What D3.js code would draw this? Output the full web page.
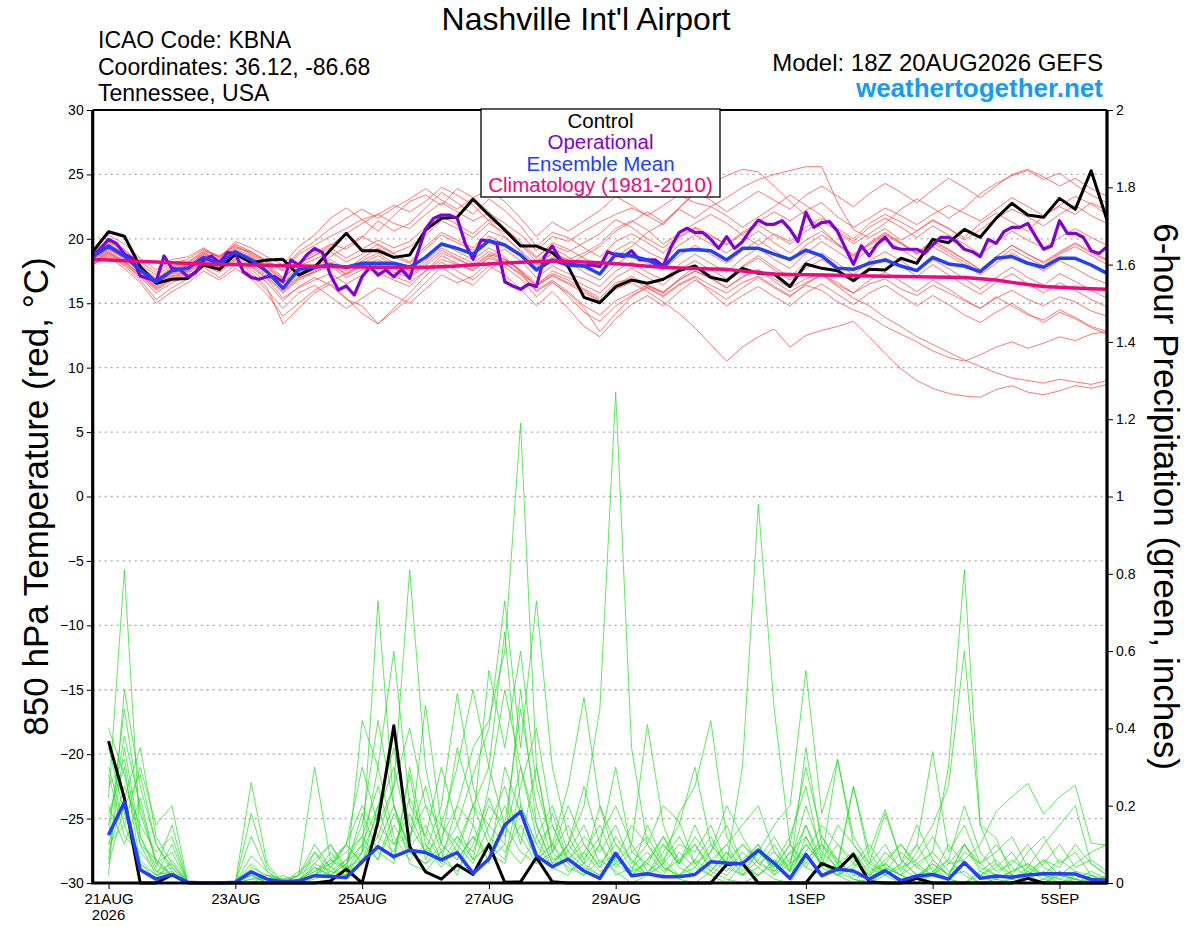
<!DOCTYPE html>
<html>
<head>
<meta charset="utf-8">
<script src="https://cdn.jsdelivr.net/npm/d3@7"></script>
<style>
  body { margin: 0; background: #fff; }
  svg { display: block; font-family: "Liberation Sans", Arial, sans-serif; }
</style>
</head>
<body>
<div id="chart"></div>
<script>
// run start 18Z 20AUG2026, temps every 6h (0..384h), precip every 6h (6..384h), operational every 3h
const runStart = Date.UTC(2026, 7, 20, 18);
const runEnd = Date.UTC(2026, 8, 5, 18);

const tickDates = ["2026-08-21", "2026-08-23", "2026-08-25", "2026-08-27", "2026-08-29", "2026-09-01", "2026-09-03", "2026-09-05"];
const tickLabels = ["21AUG", "23AUG", "25AUG", "27AUG", "29AUG", "1SEP", "3SEP", "5SEP"];
const tempTicks = [-30, -25, -20, -15, -10, -5, 0, 5, 10, 15, 20, 25, 30];
const precipTicks = [0, 0.2, 0.4, 0.6, 0.8, 1, 1.2, 1.4, 1.6, 1.8, 2];

// 850 hPa temperature, control run (6h)
const controlTemp = [19.0, 20.55, 20.2, 17.84, 16.55, 16.86, 16.93, 17.97, 17.63, 18.82,
  18.15, 18.36, 18.41, 17.19, 17.79, 19.13, 20.43, 19.08, 19.08, 18.56,
  18.74, 20.69, 21.6, 21.67, 23.07, 21.85, 20.69, 19.44, 19.44, 18.93,
  17.84, 15.46, 15.04, 16.29, 16.8, 16.55, 16.86, 17.53, 17.89, 17.01,
  16.75, 17.71, 17.32, 17.27, 16.29, 18.05, 17.71, 17.53, 16.75, 17.63,
  17.58, 18.49, 18.1, 19.96, 19.7, 20.74, 20.12, 21.59, 22.76, 21.85,
  21.67, 23.14, 22.29, 25.29, 21.46];

// operational run (3h)
const operationalTemp = [18.62, 19.26, 19.96, 19.65, 18.82, 18.49, 17.11, 16.93, 16.67, 18.67,
  17.71, 17.63, 17.06, 17.37, 18.36, 18.67, 18.15, 18.93, 18.87, 17.45,
  17.01, 16.86, 17.06, 17.06, 16.67, 18.36, 17.97, 18.74, 19.26, 18.93,
  17.19, 16.03, 16.34, 15.64, 17.06, 17.84, 17.19, 17.58, 17.06, 17.63,
  16.93, 18.87, 20.74, 21.59, 21.85, 21.85, 21.59, 19.65, 18.41, 19.91,
  19.83, 19.6, 16.67, 16.34, 16.08, 16.49, 16.29, 18.62, 19.44, 18.41,
  18.1, 17.97, 17.89, 17.97, 17.84, 19.0, 18.74, 18.62, 19.08, 18.36,
  18.36, 18.36, 17.89, 19.39, 20.48, 20.82, 20.48, 20.48, 19.96, 19.26,
  20.17, 19.26, 19.78, 20.69, 21.46, 21.13, 21.13, 21.41, 20.74, 19.78,
  22.06, 20.89, 21.26, 21.33, 20.56, 19.26, 18.02, 19.47, 18.67, 19.6,
  20.12, 19.34, 19.19, 19.19, 19.19, 18.87, 19.52, 20.12, 20.12, 19.78,
  19.19, 19.0, 18.62, 19.96, 19.65, 20.56, 20.89, 20.89, 21.2, 20.17,
  19.19, 19.44, 21.41, 20.43, 20.43, 20.12, 19.08, 18.87, 19.39];

const meanTemp = [18.62, 19.44, 18.67, 17.58, 16.67, 17.53, 17.71, 18.56, 18.05, 19.0,
  18.36, 17.45, 16.16, 17.63, 17.79, 17.97, 17.79, 18.1, 18.1, 18.1,
  17.79, 18.56, 19.6, 19.26, 18.82, 19.86, 19.52, 18.74, 17.58, 18.36,
  17.97, 17.89, 17.27, 18.82, 18.67, 18.36, 17.79, 19.08, 19.18, 19.08,
  18.36, 19.26, 19.26, 18.82, 18.41, 19.13, 18.67, 17.71, 17.63, 18.1,
  18.36, 17.89, 17.53, 18.56, 18.05, 17.89, 17.45, 18.49, 18.62, 18.1,
  17.79, 18.49, 18.49, 17.97, 17.32];

const climTemp = [18.4, 18.35, 18.3, 18.25, 18.2, 18.15, 18.1, 18.05, 18.0, 18.0,
  17.97, 17.95, 17.92, 17.9, 17.88, 17.86, 17.84, 17.82, 17.8, 17.8,
  17.79, 17.79, 17.84, 17.9, 17.98, 18.05, 18.12, 18.18, 18.24, 18.28,
  18.25, 18.2, 18.15, 18.07, 17.98, 17.88, 17.79, 17.74, 17.7, 17.66,
  17.63, 17.5, 17.38, 17.27, 17.24, 17.22, 17.2, 17.17, 17.15, 17.12,
  17.1, 17.08, 17.06, 17.04, 17.02, 17.0, 16.9, 16.8, 16.62, 16.45,
  16.3, 16.24, 16.18, 16.12, 16.08];

// ensemble members, 850 hPa temperature (6h)
const memberTemps = [
  [18.9,19.8,19.2,17.9,16.9,17.8,18.2,19.0,18.6,19.6, 19.0,18.2,17.5,18.8,19.5,20.2,20.8,21.5,21.9,21.2,
   20.8,21.9,22.8,22.1,21.4,22.0,21.2,20.3,19.1,20.2, 19.8,20.6,21.3,21.9,22.4,21.8,22.6,23.4,22.8,22.5,
   23.2,24.0,24.6,25.0,25.3,25.6,25.6,22.8,20.7,20.1, 20.8,19.9,20.6,21.4,20.8,20.1,21.2,22.0,21.3,20.6,
   21.8,22.5,21.9,22.8,22.2],
  [18.2,19.1,18.3,17.2,16.1,16.9,17.4,18.1,17.6,18.4, 17.8,16.9,15.4,16.2,16.8,17.3,16.5,17.2,17.8,17.1,
   16.6,17.5,18.4,18.0,17.6,18.5,18.1,17.2,16.0,16.8, 15.9,14.8,14.1,15.2,15.8,16.4,15.9,16.8,17.5,17.0,
   16.2,17.1,17.6,16.9,16.2,16.9,17.3,16.4,15.8,16.5, 16.9,16.1,15.6,16.4,15.8,15.2,14.6,15.4,16.0,15.3,
   14.8,15.5,15.1,14.4,14.0],
  [18.8,19.6,18.9,18.0,17.2,17.9,18.1,19.1,18.7,19.4, 18.9,18.1,17.0,18.2,18.9,19.6,19.2,20.1,21.4,20.6,
   21.2,22.4,23.6,22.8,21.9,23.1,22.2,21.0,19.4,20.5, 20.1,19.3,18.6,19.8,20.4,19.7,18.9,20.1,20.8,20.2,
   19.6,20.5,21.3,22.1,21.4,22.2,22.8,21.7,20.9,21.6, 22.4,21.8,21.1,21.9,22.6,22.0,21.4,22.3,23.2,22.5,
   21.8,22.6,23.3,22.7,21.9],
  [18.4,19.2,18.5,17.4,16.4,17.2,17.6,18.4,17.9,18.8, 18.1,17.1,15.9,17.0,17.4,17.9,17.0,17.6,18.0,17.4,
   17.0,17.9,18.9,18.4,17.9,18.8,18.4,17.6,16.5,17.3, 16.8,16.1,15.4,16.6,16.9,16.2,15.6,16.5,17.1,16.4,
   15.8,16.6,17.1,16.3,15.6,16.4,16.0,15.1,14.5,14.0, 13.2,12.6,12.0,11.3,10.8,10.5,11.0,11.6,12.0,11.5,
   11.9,12.4,12.1,12.6,12.8],
  [18.2,18.9,18.2,17.2,16.3,17.1,17.5,18.3,17.7,18.6, 17.9,17.0,15.8,16.8,17.4,18.0,17.3,18.1,18.7,17.9,
   17.3,18.3,19.3,18.7,18.1,19.0,18.4,17.5,16.3,17.2, 16.6,16.0,15.2,16.4,17.1,16.4,15.8,16.8,17.5,16.9,
   16.2,17.0,17.6,16.7,15.9,16.6,17.2,16.3,15.4,14.8, 13.9,13.2,12.4,11.8,11.2,10.6,10.1,9.6,9.2,9.0,
   8.8,9.1,8.9,8.7,9.0],
  [18.5,19.3,18.6,17.5,16.5,17.3,17.7,18.5,18.0,18.9, 18.3,17.4,16.0,16.9,17.5,18.1,17.2,17.9,18.4,17.7,
   17.1,18.1,19.1,18.5,17.8,18.7,18.1,17.3,16.4,17.1, 16.5,15.8,15.2,16.1,16.6,15.9,15.1,14.2,13.1,11.8,
   10.5,11.6,12.4,13.0,11.6,12.5,12.9,13.2,13.6,12.4, 11.1,9.9,9.0,8.4,8.0,7.8,7.7,8.3,8.6,8.1,
   7.9,8.2,8.6,8.4,8.7],
  [19.2,20.3,19.6,18.5,17.6,18.4,18.6,19.3,18.5,19.8, 19.3,18.6,18.0,19.4,20.3,21.6,22.4,21.5,20.6,21.8,
   22.9,23.4,22.6,23.9,23.2,22.1,20.8,19.6,18.2,19.3, 18.6,17.8,17.3,18.6,19.4,20.5,21.2,22.3,21.6,22.5,
   21.8,20.9,21.7,22.5,23.4,22.6,21.8,20.5,19.6,20.4, 21.2,22.3,23.1,22.4,21.6,22.4,23.5,24.3,24.9,25.3,
   24.6,25.1,24.2,23.4,22.8],
  [18.0,18.7,17.9,16.8,15.3,16.2,16.9,17.8,17.0,18.0, 17.2,16.0,14.6,15.8,16.4,15.5,14.6,15.4,16.2,15.6,
   15.0,16.1,17.2,16.6,17.1,18.2,17.8,16.9,15.5,16.6, 15.8,14.6,12.8,14.2,15.5,16.3,15.8,16.9,17.8,17.2,
   16.6,17.8,18.5,17.6,16.8,17.7,18.4,17.6,16.9,17.8, 18.5,17.9,17.1,18.0,17.2,16.4,15.7,16.6,17.3,16.5,
   15.8,16.6,16.0,15.3,14.7],
  [18.6,19.3,18.4,17.5,16.6,17.5,17.8,18.9,18.2,19.1, 18.5,17.8,16.6,17.4,18.0,18.6,19.4,20.2,19.5,18.8,
   18.2,19.4,20.5,19.9,19.3,20.6,20.1,19.1,18.0,18.9, 18.4,18.9,19.6,20.8,21.4,20.7,19.6,20.4,21.2,21.9,
   21.2,20.3,19.5,20.4,19.8,20.9,21.6,20.8,20.0,21.2, 21.9,21.3,20.6,21.5,20.8,19.9,20.7,21.6,22.3,21.7,
   21.0,21.9,22.6,21.8,21.2],
  [18.3,18.9,18.1,17.0,15.8,16.6,17.1,17.9,17.4,18.3, 17.4,16.2,13.4,14.6,15.8,16.5,15.4,14.2,13.4,14.6,
   15.8,17.1,18.2,17.5,16.8,17.9,17.2,16.1,14.8,15.9, 14.6,13.2,12.4,13.8,14.9,15.6,14.8,15.9,16.8,16.1,
   15.3,16.2,17.0,16.2,15.5,16.5,17.2,16.6,15.8,16.8, 17.4,16.7,15.9,16.8,16.1,15.3,14.6,15.5,14.8,14.1,
   13.7,14.5,13.9,13.2,12.8],
  [19.0,19.9,19.0,17.8,16.9,17.6,17.9,18.8,18.3,19.2, 18.7,17.6,16.5,17.9,18.4,19.0,18.2,18.8,19.6,18.9,
   19.4,20.3,21.4,20.8,20.1,21.2,20.5,19.6,18.5,19.7, 19.2,18.5,17.9,19.1,19.8,19.0,18.4,19.5,20.3,19.6,
   18.9,19.8,20.6,19.7,18.9,19.9,20.6,19.6,18.8,19.6, 20.4,19.7,18.8,19.7,18.9,18.2,17.4,18.3,19.2,18.5,
   17.9,18.8,19.4,18.7,18.0],
  [18.1,18.8,18.0,17.1,16.0,16.8,17.3,18.2,17.5,18.5, 17.6,16.6,15.2,16.3,17.0,16.4,15.3,14.8,13.4,14.4,
   15.4,16.6,17.8,17.0,16.4,17.6,18.4,17.5,16.3,17.5, 17.0,16.4,15.8,17.0,17.7,17.0,16.4,17.6,18.3,17.6,
   16.9,17.9,18.7,17.8,17.0,18.2,18.9,18.1,17.2,18.3, 19.0,18.3,17.5,18.4,17.7,16.9,16.1,17.0,17.8,17.0,
   16.4,17.3,16.7,16.0,15.4],
  [18.7,19.5,18.8,17.7,16.8,17.7,18.0,18.9,18.4,19.3, 19.0,18.3,17.6,19.0,19.8,20.8,21.6,22.3,21.6,22.4,
   23.1,23.9,23.0,22.3,23.2,23.8,22.9,21.6,20.2,21.3, 20.6,21.4,22.2,23.3,22.6,21.8,21.1,22.4,23.6,23.0,
   22.1,22.9,23.7,23.0,22.3,23.4,24.1,23.3,22.5,23.5, 24.3,23.6,22.8,23.8,24.7,24.0,23.2,24.1,25.0,25.4,
   24.8,24.1,24.7,23.9,23.3],
  [18.5,19.0,18.2,17.3,16.2,17.0,17.5,18.3,17.8,18.7, 18.2,17.3,16.1,17.1,17.6,18.2,17.5,18.3,18.9,18.1,
   17.5,18.6,19.7,19.0,18.4,19.3,18.6,17.4,15.9,16.7, 15.6,14.3,13.6,14.8,15.6,16.2,15.5,16.4,17.0,15.8,
   14.8,15.6,16.3,15.5,14.8,15.8,16.5,15.7,14.9,15.8, 16.4,15.6,14.8,15.6,14.9,14.1,13.5,14.3,15.0,14.2,
   13.5,14.3,13.8,13.1,12.6],
  [18.9,19.7,19.1,18.2,17.4,18.1,18.4,19.2,18.6,19.5, 18.8,17.9,16.9,18.1,18.7,19.3,18.5,19.2,19.9,19.3,
   19.8,20.9,21.8,21.1,20.4,21.5,20.8,19.8,18.6,19.5, 19.0,19.7,20.4,21.5,20.9,20.0,19.3,20.2,20.9,20.3,
   19.5,20.4,21.1,20.3,19.6,20.6,21.4,20.6,19.8,20.9, 21.6,20.9,20.1,21.0,20.3,19.6,18.8,19.7,20.6,19.9,
   19.3,20.1,20.8,20.1,19.5],
  [18.0,18.6,17.7,16.6,15.0,15.9,16.6,17.5,16.8,17.7, 16.9,15.7,14.0,15.0,16.0,16.7,17.3,18.0,17.4,16.8,
   16.3,17.5,18.7,18.1,17.5,18.6,19.2,18.3,17.0,17.9, 17.3,16.9,16.3,17.5,18.2,17.4,16.8,18.0,18.8,18.1,
   17.4,18.5,19.3,18.4,17.7,18.9,19.8,19.0,18.2,19.2, 19.9,19.2,18.4,19.4,18.7,18.0,17.2,18.1,18.9,18.2,
   17.5,18.3,17.7,17.0,16.5],
  [18.6,19.4,18.7,17.6,16.7,17.6,17.9,18.7,18.1,18.9, 18.4,17.5,16.3,17.3,17.9,18.4,17.6,18.5,19.3,18.6,
   18.1,19.2,20.3,19.7,19.1,20.2,19.6,18.8,17.7,18.6, 18.0,18.7,19.4,20.6,21.3,22.1,21.3,22.4,23.5,24.3,
   24.9,25.4,25.2,24.1,22.9,21.8,20.8,19.6,18.7,19.5, 20.3,19.6,18.9,19.8,19.1,18.4,17.6,18.6,19.5,18.8,
   18.2,19.0,19.7,19.0,18.4],
  [18.4,19.2,18.6,17.6,16.5,17.4,17.8,18.6,18.1,19.0, 18.6,17.8,16.9,18.1,18.7,19.5,20.4,21.2,21.9,22.6,
   22.1,22.9,24.0,23.4,22.6,21.4,20.2,19.0,17.8,18.9, 18.3,17.4,16.8,18.0,18.8,18.1,17.6,18.7,19.5,18.8,
   18.1,19.1,19.9,19.1,18.3,19.5,20.3,19.5,18.6,19.7, 20.5,19.7,18.9,19.9,19.2,18.4,17.6,18.6,19.5,18.8,
   18.1,18.9,19.6,18.9,18.3]
];

// 6-hour precipitation, inches (periods ending 00Z 21AUG .. 18Z 5SEP)
const controlPrecip = [0.367, 0.219, 0, 0, 0.021, 0, 0, 0, 0, 0,
  0, 0, 0, 0, 0.005, 0.036, 0, 0.159, 0.407, 0.094,
  0.029, 0.01, 0.047, 0.022, 0.1, 0.002, 0.003, 0.066, 0.003, 0,
  0, 0, 0, 0, 0, 0, 0, 0, 0, 0.048,
  0.051, 0, 0, 0, 0, 0.051, 0.034, 0.074, 0.003, 0,
  0, 0.012, 0, 0, 0, 0, 0, 0, 0.012, 0,
  0, 0, 0, 0];

const meanPrecip = [0.124, 0.209, 0.034, 0.01, 0.022, 0.002, 0, 0, 0.002, 0.029,
  0.01, 0.003, 0.005, 0.019, 0.017, 0.014, 0.055, 0.094, 0.068, 0.085,
  0.079, 0.06, 0.079, 0.025, 0.062, 0.15, 0.185, 0.071, 0.042, 0.062,
  0.031, 0.012, 0.077, 0.019, 0.024, 0.016, 0.016, 0.022, 0.055, 0.052,
  0.05, 0.085, 0.051, 0.012, 0.074, 0.019, 0.036, 0.031, 0.01, 0.032,
  0.006, 0.018, 0.022, 0.01, 0.053, 0.012, 0.018, 0.015, 0.021, 0.024,
  0.024, 0.023, 0.009, 0.007];

const memberPrecips = [
  [0.22,0.81,0.12,0.03,0.05,0,0,0,0,0.02, 0,0,0.01,0.04,0.02,0.06,0.12,0.25,0.1,0.18, 0.08,0.12,0.2,0.35,0.42,0.6,1.19,0.3,0.08,0.04, 0.02,0.06,0.03,0,0.02,0.05,0.01,0,0.03,0.01, 0,0.02,0.06,0.01,0.12,0.05,0.02,0,0.01,0.04, 0.02,0,0.03,0.01,0,0.02,0.05,0.01,0,0, 0.02,0.01,0,0],
  [0.3,0.15,0.05,0.02,0.1,0,0,0,0,0.26, 0.05,0,0,0.02,0.08,0.03,0.05,0.1,0.2,0.09, 0.15,0.06,0.03,0.1,0.22,0.12,0.3,0.15,0.05,0.1, 0.2,0.45,1.27,0.35,0.1,0.04,0.02,0.06,0.03,0.08, 0.02,0.04,0.01,0,0.06,0.1,0.03,0.01,0,0.02, 0,0.01,0.05,0.02,0.03,0,0,0.01,0.04,0.02, 0,0,0.01,0],
  [0.15,0.38,0.2,0.05,0.02,0,0,0,0,0.07, 0.03,0,0.02,0.3,0.06,0.04,0.18,0.08,0.05,0.3, 0.1,0.05,0.12,0.08,0.2,0.15,0.08,0.05,0.18,0.06, 0.1,0.04,0.12,0.06,0.02,0.08,0.15,0.3,0.1,0.05, 0.3,0.98,0.45,0.1,0.04,0.02,0.05,0.01,0,0.03, 0.01,0,0.02,0.01,0.05,0.02,0,0,0.01,0, 0.03,0.01,0,0],
  [0.1,0.25,0.15,0.08,0.12,0,0,0,0,0.03, 0.01,0,0,0.05,0.1,0.03,0.08,0.73,0.2,0.05, 0.03,0.08,0.02,0.15,0.05,0.3,0.18,0.06,0.1,0.03, 0.05,0.02,0.08,0.03,0.15,0.06,0.02,0.04,0.02,0, 0.05,0.1,0.03,0.06,0.15,0.04,0.02,0.08,0.03,0.05, 0.1,0.04,0.08,0.3,0.81,0.15,0.05,0.02,0.01,0.03, 0.01,0,0.02,0],
  [0.25,0.32,0.1,0.02,0.04,0,0,0,0,0, 0.02,0.01,0,0.08,0.04,0.1,0.3,0.15,0.25,0.81, 0.3,0.1,0.06,0.12,0.08,0.05,0.2,0.1,0.04,0.02, 0.08,0.03,0.05,0.02,0.06,0.12,0.04,0.02,0.05,0.1, 0.03,0.08,0.15,0.2,0.55,0.18,0.32,0.1,0.05,0.18, 0.06,0.02,0.04,0.01,0,0.03,0.01,0,0.02,0, 0,0.01,0,0.02],
  [0.05,0.2,0.28,0.1,0.03,0,0,0,0,0.02, 0,0,0.01,0.03,0.05,0.08,0.12,0.06,0.18,0.1, 0.46,0.15,0.08,0.2,0.1,0.06,0.25,0.4,0.15,0.05, 0.02,0.1,0.04,0.08,0.12,0.05,0.18,0.25,0.42,0.12, 0.05,0.02,0.06,0.03,0.1,0.05,0.02,0.04,0.08,0.02, 0.05,0.1,0.03,0.06,0.02,0,0.01,0.03,0.05,0.02, 0.06,0.03,0,0],
  [0.18,0.3,0.05,0.01,0.06,0,0,0,0,0.18, 0.04,0,0,0.02,0.04,0.1,0.05,0.2,0.35,0.15, 0.08,0.2,0.49,0.25,0.12,0.08,0.15,0.06,0.1,0.25, 0.48,0.2,0.06,0.03,0.05,0.02,0.08,0.04,0.1,0.05, 0.02,0.08,0.04,0.1,0.05,0.12,0.06,0.02,0.01,0.05, 0.02,0,0.06,0.02,0.1,0.05,0.02,0.06,0.03,0.01, 0,0.02,0.01,0],
  [0.12,0.45,0.18,0.06,0.02,0,0,0,0,0.05, 0.01,0,0.03,0.06,0.1,0.04,0.06,0.12,0.08,0.22, 0.12,0.3,0.15,0.28,0.4,0.73,0.35,0.73,0.3,0.12, 0.05,0.1,0.02,0.04,0.08,0.03,0.06,0.1,0.04,0.02, 0.06,0.1,0.02,0.05,0.2,0.08,0.04,0.25,0.06,0.02, 0.04,0.01,0.02,0.05,0.1,0.04,0.02,0.01,0.03,0.06, 0.02,0.01,0.03,0.01],
  [0.08,0.22,0.35,0.12,0.05,0,0,0,0,0, 0,0.02,0,0.04,0.02,0.05,0.1,0.06,0.15,0.08, 0.05,0.1,0.06,0.12,0.06,0.1,0.05,0.12,0.2,0.08, 0.04,0.02,0.06,0.15,0.1,0.2,0.16,0.05,0.02,0.06, 0.1,0.05,0.03,0.08,0.12,0.04,0.1,0.06,0.02,0.08, 0.04,0.06,0.12,0.05,0.06,0.1,0.185,0.223,0.258,0.178, 0.223,0.253,0.103,0.098],
  [0.28,0.12,0.08,0.03,0.02,0,0,0,0,0.01, 0.02,0,0,0.01,0.03,0.02,0.42,0.3,0.12,0.06, 0.1,0.04,0.1,0.05,0.15,0.25,0.1,0.3,0.08,0.15, 0.06,0.12,0.2,0.1,0.41,0.15,0.05,0.1,0.03,0.08, 0.04,0.02,0.05,0.12,0.25,0.06,0.02,0.05,0.1,0.04, 0.02,0.08,0.15,0.25,0.6,0.15,0.116,0.02,0,0.01, 0.03,0,0,0.02],
  [0.2,0.1,0.22,0.05,0.08,0,0,0,0,0.03, 0,0.01,0.02,0.05,0.03,0.06,0.08,0.18,0.3,0.12, 0.2,0.08,0.15,0.06,0.1,0.2,0.12,0.05,0.08,0.2, 0.1,0.04,0.08,0.02,0.06,0.1,0.05,0.12,0.06,0.03, 0.08,0.04,0.1,0.03,0.15,0.06,0.32,0.12,0.05,0.1, 0.03,0.1,0.34,0.08,0.15,0.05,0.08,0.12,0.04,0.1, 0.15,0.2,0.05,0.02],
  [0.35,0.18,0.06,0.02,0.03,0,0,0,0,0.01, 0.01,0,0,0.03,0.06,0.03,0.1,0.2,0.06,0.28, 0.06,0.15,0.1,0.2,0.3,0.15,0.45,0.2,0.06,0.08, 0.15,0.05,0.1,0.04,0.02,0.05,0.1,0.08,0.15,0.05, 0.1,0.06,0.02,0.08,0.04,0.1,0.05,0.25,0.08,0.19, 0.06,0.02,0.05,0.02,0.1,0.03,0.06,0.02,0.08,0.12, 0.05,0.08,0.02,0],
  [0.06,0.35,0.12,0.04,0.15,0,0,0,0,0.12, 0.03,0,0.02,0.1,0.04,0.02,0.08,0.3,0.6,0.2, 0.12,0.06,0.2,0.15,0.55,0.35,0.6,0.25,0.1,0.05, 0.08,0.15,0.05,0.1,0.03,0.06,0.12,0.05,0.08,0.2, 0.12,0.05,0.08,0.03,0.35,0.1,0.06,0.02,0.05,0.03, 0.08,0.04,0.02,0.1,0.05,0.02,0.04,0.08,0.02,0.05, 0.1,0.04,0.06,0.03],
  [0.4,0.28,0.1,0.06,0.02,0,0,0,0,0.04, 0.02,0.01,0,0.02,0.06,0.1,0.2,0.12,0.25,0.4, 0.2,0.15,0.3,0.5,0.3,0.65,0.2,0.1,0.15,0.06, 0.12,0.08,0.15,0.05,0.1,0.04,0.02,0.06,0.12,0.04, 0.02,0.06,0.12,0.05,0.08,0.15,0.1,0.05,0.02,0.06, 0.1,0.05,0.02,0.06,0.2,0.08,0.03,0.05,0.1,0.04, 0.02,0.05,0.08,0.1],
  [0.1,0.15,0.3,0.15,0.2,0,0,0,0,0, 0,0,0.01,0.02,0.05,0.1,0.05,0.15,0.1,0.12, 0.25,0.1,0.35,0.2,0.15,0.1,0.5,0.15,0.05,0.1, 0.05,0.2,0.1,0.06,0.02,0.1,0.05,0.15,0.06,0.1, 0.15,0.2,0.08,0.04,0.1,0.05,0.15,0.1,0.04,0.02, 0.05,0.15,0.06,0.02,0.08,0.05,0.1,0.04,0.02,0.06, 0.04,0.1,0.05,0.02],
  [0.02,0.5,0.25,0.1,0.04,0,0,0,0,0.02, 0,0,0.02,0.08,0.02,0.05,0.15,0.42,0.2,0.08, 0.05,0.08,0.12,0.06,0.25,0.5,0.3,0.12,0.04,0.1, 0.25,0.1,0.3,0.08,0.05,0.12,0.06,0.02,0.08,0.15, 0.05,0.08,0.04,0.1,0.3,0.12,0.05,0.08,0.02,0.05, 0.02,0.05,0.08,0.03,0.05,0.02,0.01,0.03,0.05,0.02, 0.01,0.03,0.02,0.01]
];

const legendItems = [
  { label: "Control", color: "#000000" },
  { label: "Operational", color: "#8000dc" },
  { label: "Ensemble Mean", color: "#2040ff" },
  { label: "Climatology (1981-2010)", color: "#f0067f" }
];

const HOUR = 3600 * 1000;
const margin = { top: 110, right: 93, bottom: 44, left: 92.7 };
const width = 1200 - margin.left - margin.right;
const height = 927 - margin.top - margin.bottom;

const svg = d3.select("#chart")
  .append("svg")
  .attr("width", 1200)
  .attr("height", 927);

const g = svg.append("g")
  .attr("transform", `translate(${margin.left}, ${margin.top})`);

const xScale = d3.scaleUtc()
  .domain([new Date(runStart), new Date(runEnd)])
  .range([0, width]);

const yTemp = d3.scaleLinear().domain([-30, 30]).range([height, 0]);
const yPrecip = d3.scaleLinear().domain([0, 2]).range([height, 0]);

// dotted grid on the temperature ticks
g.append("g")
  .selectAll("line")
  .data(tempTicks.filter(d => d > -30 && d < 30))
  .enter()
  .append("line")
  .attr("x1", 0)
  .attr("x2", width)
  .attr("y1", d => yTemp(d))
  .attr("y2", d => yTemp(d))
  .attr("stroke", "#a8a8a8")
  .attr("stroke-width", 1.3)
  .attr("stroke-dasharray", "2,4");

const plot = g.append("g");

// temperature lines (6h steps)
const tempLine = d3.line()
  .x((d, i) => xScale(new Date(runStart + i * 6 * HOUR)))
  .y(d => yTemp(d));

// operational is every 3h
const opLine = d3.line()
  .x((d, i) => xScale(new Date(runStart + i * 3 * HOUR)))
  .y(d => yTemp(d));

// precip periods end 6h after start
const precipLine = d3.line()
  .x((d, i) => xScale(new Date(runStart + (i + 1) * 6 * HOUR)))
  .y(d => yPrecip(d));

plot.selectAll(".member")
  .data(memberTemps)
  .enter()
  .append("path")
  .attr("class", "member")
  .attr("fill", "none")
  .attr("stroke", "#ff4040")
  .attr("stroke-opacity", 0.9)
  .attr("stroke-width", 0.8)
  .attr("d", tempLine);

plot.selectAll(".pmember")
  .data(memberPrecips)
  .enter()
  .append("path")
  .attr("class", "pmember")
  .attr("fill", "none")
  .attr("stroke", "#22dd22")
  .attr("stroke-opacity", 0.9)
  .attr("stroke-width", 0.8)
  .attr("d", precipLine);

plot.append("path")
  .datum(controlTemp)
  .attr("fill", "none")
  .attr("stroke", "#000")
  .attr("stroke-width", 3)
  .attr("stroke-linejoin", "round")
  .attr("d", tempLine);

plot.append("path")
  .datum(controlPrecip)
  .attr("fill", "none")
  .attr("stroke", "#000")
  .attr("stroke-width", 3)
  .attr("stroke-linejoin", "round")
  .attr("d", precipLine);

plot.append("path")
  .datum(operationalTemp)
  .attr("fill", "none")
  .attr("stroke", "#8000dc")
  .attr("stroke-width", 3.2)
  .attr("stroke-linejoin", "round")
  .attr("d", opLine);

plot.append("path")
  .datum(meanTemp)
  .attr("fill", "none")
  .attr("stroke", "#2040ff")
  .attr("stroke-width", 3.5)
  .attr("stroke-linejoin", "round")
  .attr("d", tempLine);

plot.append("path")
  .datum(meanPrecip)
  .attr("fill", "none")
  .attr("stroke", "#2040ff")
  .attr("stroke-width", 3.5)
  .attr("stroke-linejoin", "round")
  .attr("d", precipLine);

plot.append("path")
  .datum(climTemp)
  .attr("fill", "none")
  .attr("stroke", "#f0067f")
  .attr("stroke-width", 3.5)
  .attr("stroke-linejoin", "round")
  .attr("d", tempLine);

// axes
const leftAxis = g.append("g")
  .call(d3.axisLeft(yTemp).tickValues(tempTicks).tickSize(6).tickPadding(3));
const rightAxis = g.append("g")
  .attr("transform", `translate(${width}, 0)`)
  .call(d3.axisRight(yPrecip).tickValues(precipTicks).tickSize(6).tickPadding(3)
    .tickFormat(d3.format("~g")));
const bottomAxis = g.append("g")
  .attr("transform", `translate(0, ${height})`)
  .call(d3.axisBottom(xScale)
    .tickValues(tickDates.map(d => new Date(d + "T00:00:00Z")))
    .tickSize(6)
    .tickPadding(4)
    .tickFormat((d, i) => tickLabels[i]));

[leftAxis, rightAxis, bottomAxis].forEach(ax => {
  ax.select(".domain").remove();
  ax.selectAll("text")
    .attr("fill", "#000")
    .style("font-family", "'Liberation Sans', Arial, sans-serif");
  ax.selectAll("line").attr("stroke", "#000");
});
leftAxis.selectAll("text").style("font-size", "14px");
rightAxis.selectAll("text").style("font-size", "14px");
bottomAxis.selectAll("text").style("font-size", "15px");

bottomAxis.append("text")
  .attr("x", xScale(new Date(tickDates[0] + "T00:00:00Z")))
  .attr("y", 37)
  .attr("text-anchor", "middle")
  .attr("fill", "#000")
  .style("font-size", "15px")
  .text("2026");

// frame
g.append("line").attr("x1", 0).attr("x2", width).attr("y1", 0).attr("y2", 0)
  .attr("stroke", "#000").attr("stroke-width", 2);
g.append("path")
  .attr("d", `M0,0V${height}H${width}V0`)
  .attr("fill", "none")
  .attr("stroke", "#000")
  .attr("stroke-width", 3.2);

// legend box
const legend = svg.append("g").attr("transform", "translate(481, 109)");
legend.append("rect")
  .attr("width", 239)
  .attr("height", 88)
  .attr("fill", "#fff")
  .attr("stroke", "#000")
  .attr("stroke-width", 1.3);
legend.selectAll("text")
  .data(legendItems)
  .enter()
  .append("text")
  .attr("x", 119.5)
  .attr("y", (d, i) => 19 + i * 21.3)
  .attr("text-anchor", "middle")
  .attr("fill", d => d.color)
  .style("font-size", "20.5px")
  .text(d => d.label);

// titles
svg.append("text")
  .attr("x", 586)
  .attr("y", 30)
  .attr("text-anchor", "middle")
  .style("font-size", "32px")
  .text("Nashville Int'l Airport");

const info = ["ICAO Code: KBNA", "Coordinates: 36.12, -86.68", "Tennessee, USA"];
svg.selectAll(".info")
  .data(info)
  .enter()
  .append("text")
  .attr("class", "info")
  .attr("x", 98)
  .attr("y", (d, i) => 48 + i * 26.5)
  .style("font-size", "23px")
  .text(d => d);

svg.append("text")
  .attr("x", 1103)
  .attr("y", 71)
  .attr("text-anchor", "end")
  .style("font-size", "24px")
  .text("Model: 18Z 20AUG2026 GEFS");

svg.append("text")
  .attr("x", 1103)
  .attr("y", 97)
  .attr("text-anchor", "end")
  .attr("fill", "#129cff")
  .style("font-size", "26px")
  .style("font-weight", "bold")
  .text("weathertogether.net");

svg.append("text")
  .attr("transform", `translate(35, ${margin.top + height / 2}) rotate(-90)`)
  .attr("text-anchor", "middle")
  .attr("dominant-baseline", "central")
  .style("font-size", "35px")
  .text("850 hPa Temperature (red, °C)");

svg.append("text")
  .attr("transform", `translate(1166, ${margin.top + height / 2}) rotate(90)`)
  .attr("text-anchor", "middle")
  .attr("dominant-baseline", "central")
  .style("font-size", "35px")
  .text("6-hour Precipitation (green, inches)");
</script>
</body>
</html>
